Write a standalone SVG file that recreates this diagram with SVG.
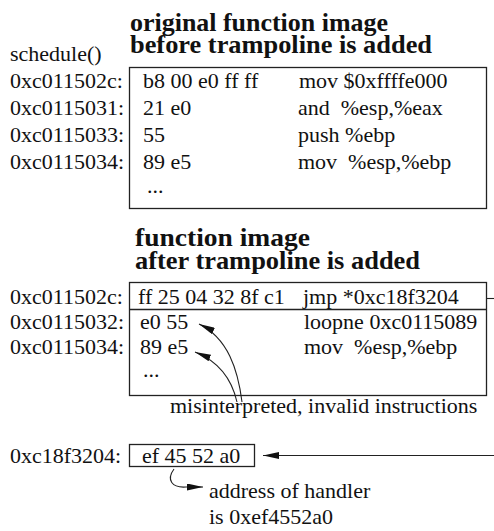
<svg xmlns="http://www.w3.org/2000/svg" width="494" height="531" viewBox="0 0 494 531">
  <style>
    text { font-family: "Liberation Serif", "Times New Roman", serif; font-size: 22px; fill: #111; white-space: pre; }
    .title { font-weight: bold; font-size: 25px; }
    .box { fill: none; stroke: #222; stroke-width: 1.3; }
    .wire { fill: none; stroke: #222; stroke-width: 1.1; }
  </style>
  <defs>
    <marker id="head" viewBox="0 0 16 7" refX="16" refY="3.5" markerWidth="16" markerHeight="7" markerUnits="userSpaceOnUse" orient="auto">
      <path d="M0,0 L16,3.5 L0,7 Z" fill="#111"/>
    </marker>
  </defs>

  <!-- code before patching -->
  <g id="original">
    <text class="title" x="130" y="31" textLength="258" lengthAdjust="spacingAndGlyphs">original function image</text>
    <text class="title" x="130" y="53" textLength="302" lengthAdjust="spacingAndGlyphs">before trampoline is added</text>
    <text x="10" y="61">schedule()</text>
    <rect class="box" x="129.5" y="67.5" width="357" height="141"/>
    <text x="10" y="88">0xc011502c:</text>
    <text x="10" y="115">0xc0115031:</text>
    <text x="10" y="142">0xc0115033:</text>
    <text x="10" y="169">0xc0115034:</text>
    <text x="143" y="88">b8 00 e0 ff ff</text>
    <text x="143" y="115">21 e0</text>
    <text x="143" y="142">55</text>
    <text x="143" y="169">89 e5</text>
    <text x="147" y="193">...</text>
    <text x="299" y="88">mov $0xffffe000</text>
    <text x="298" y="115">and  %esp,%eax</text>
    <text x="298" y="142">push %ebp</text>
    <text x="298" y="169">mov  %esp,%ebp</text>
  </g>

  <!-- code after the jump is written -->
  <g id="patched">
    <text class="title" x="135" y="246" textLength="175" lengthAdjust="spacingAndGlyphs">function image</text>
    <text class="title" x="135" y="269" textLength="285" lengthAdjust="spacingAndGlyphs">after trampoline is added</text>
    <rect class="box" x="129.5" y="282.5" width="357" height="113"/>
    <line class="box" x1="129.5" y1="309.5" x2="486.5" y2="309.5"/>
    <text x="10" y="304">0xc011502c:</text>
    <text x="10" y="329">0xc0115032:</text>
    <text x="10" y="354">0xc0115034:</text>
    <text x="138" y="304">ff 25 04 32 8f c1</text>
    <text x="303" y="304">jmp *0xc18f3204</text>
    <text x="140" y="329">e0 55</text>
    <text x="304" y="329">loopne 0xc0115089</text>
    <text x="140" y="354">89 e5</text>
    <text x="304" y="354">mov  %esp,%ebp</text>
    <text x="143" y="377">...</text>
    <text x="170" y="413">misinterpreted, invalid instructions</text>
  </g>

  <!-- jump target holding the handler address -->
  <g id="handler">
    <text x="10" y="463">0xc18f3204:</text>
    <rect class="box" x="129.5" y="444.5" width="125" height="22"/>
    <text x="142" y="463">ef 45 52 a0</text>
    <text x="209" y="498">address of handler</text>
    <text x="209" y="524">is 0xef4552a0</text>
  </g>

  <g id="connectors">
    <line class="wire" x1="486.5" y1="298.5" x2="494" y2="298.5"/>
    <line class="wire" x1="494" y1="455.5" x2="263" y2="455.5" marker-end="url(#head)"/>
    <path class="wire" d="M242,402 C238,370 228,338 199,324" marker-end="url(#head)"/>
    <path class="wire" d="M237,402 C232,380 220,362 195,352" marker-end="url(#head)"/>
    <path class="wire" d="M174,469 C166,480 172,488 186,487 L203,487" marker-end="url(#head)"/>
  </g>
</svg>
